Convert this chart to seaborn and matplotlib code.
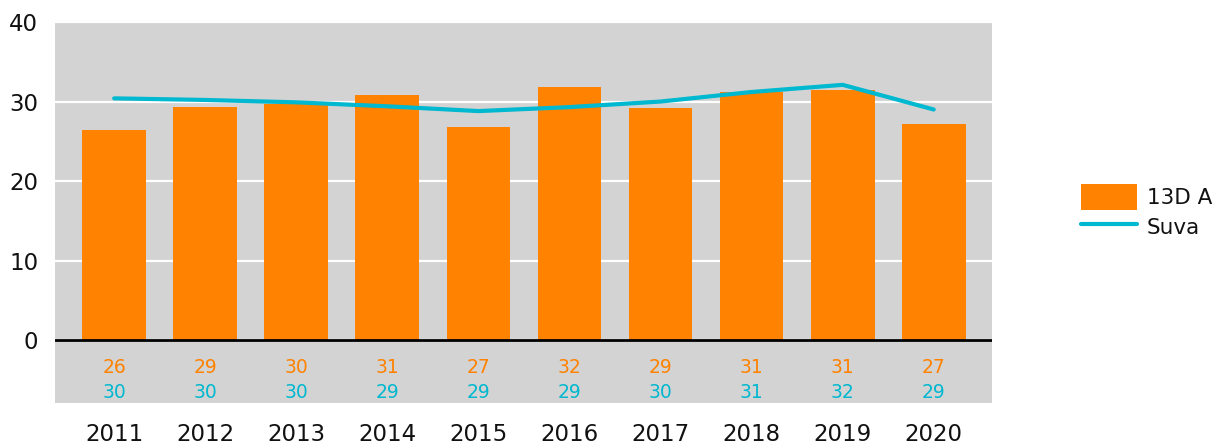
import numpy as np
import pandas as pd
import matplotlib
matplotlib.use("Agg")
import matplotlib.pyplot as plt
import seaborn as sns

years = ["2011", "2012", "2013", "2014", "2015", "2016", "2017", "2018", "2019", "2020"]
a13d = [26.4, 29.3, 29.7, 30.8, 26.8, 31.8, 29.2, 31.2, 31.4, 27.2]
suva = [30.4, 30.2, 29.9, 29.4, 28.8, 29.3, 30.0, 31.2, 32.1, 29.0]
series_names = ["13D A", "Suva"]
yticks = [0, 10, 20, 30, 40]

ORANGE = "#ff8200"
CYAN = "#00b8cf"
BG = "#d3d3d3"

sns.set_theme(style="white")
plt.rcParams["font.family"] = ["DejaVu Sans"]

df = pd.DataFrame({"year": years, "a": a13d, "suva": suva})

fig = plt.figure(figsize=(12.22, 4.45), dpi=100)
ax = fig.add_axes([55 / 1222, 42 / 445, 937 / 1222, 381 / 445])
ax.set_facecolor(BG)

sns.barplot(data=df, x="year", y="a", color=ORANGE, saturation=1, width=0.70,
            linewidth=0, ax=ax, label=series_names[0], zorder=3)
sns.pointplot(data=df, x="year", y="suva", color=CYAN, markers="", linewidth=3,
              errorbar=None, ax=ax, label=series_names[1], zorder=4)
if ax.get_legend() is not None:
    ax.get_legend().remove()

ax.set_ylim(-7.9, 40)
ax.set_xlim(-0.65, 9.64)
ax.set_yticks(yticks)
ax.set_yticklabels([str(t) for t in yticks], fontsize=16.5)
ax.yaxis.grid(True, color="white", linewidth=1.6, zorder=1)
ax.set_axisbelow(True)
ax.axhline(0, color="black", linewidth=2, zorder=5)
for s in ax.spines.values():
    s.set_visible(False)
ax.tick_params(axis="y", length=0, pad=12, colors="#111111")
ax.tick_params(axis="x", length=0, pad=14.5, labelsize=16.5, colors="#111111")
ax.set_xlabel("")
ax.set_ylabel("")

for i, (va, vs) in enumerate(zip(a13d, suva)):
    ax.text(i, -3.4, f"{va:.0f}", color=ORANGE, fontsize=13.5, ha="center", va="center")
    ax.text(i, -6.55, f"{vs:.0f}", color=CYAN, fontsize=13.5, ha="center", va="center")

handles, labels = ax.get_legend_handles_labels()
order = [labels.index(n) for n in series_names]
leg = fig.legend([handles[k] for k in order], [labels[k] for k in order],
                 loc="center left", bbox_to_anchor=(1062 / 1222, 1 - 212 / 445),
                 frameon=False, fontsize=15.5, handlelength=2.6, handleheight=1.45,
                 handletextpad=0.45, labelspacing=0.2)
for t in leg.get_texts():
    t.set_color("#111111")

fig.savefig("out.png", dpi=100)
